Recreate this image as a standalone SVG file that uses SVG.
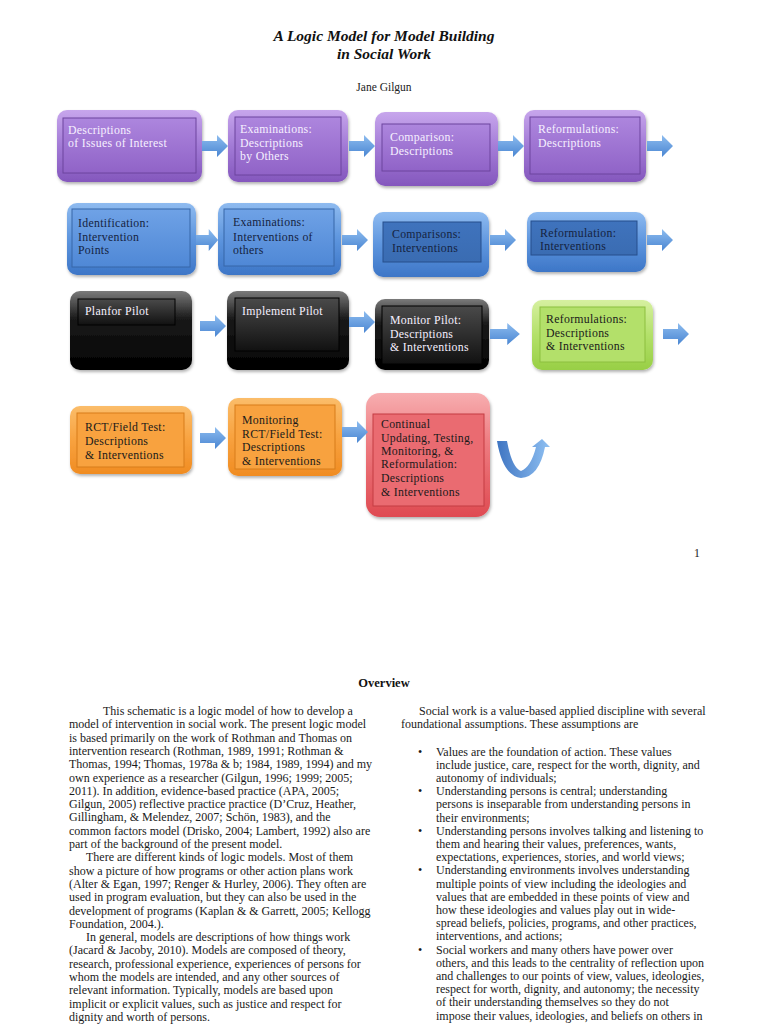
<svg xmlns="http://www.w3.org/2000/svg" width="768" height="1024" viewBox="0 0 768 1024">
<defs>
<linearGradient id="gPurple" x1="0" y1="0" x2="0" y2="1"><stop offset="0" stop-color="#c7a6ec"/><stop offset="0.5" stop-color="#a27ad6"/><stop offset="1" stop-color="#8457bd"/></linearGradient>
<linearGradient id="gPurpleIn" x1="0" y1="0" x2="0" y2="1"><stop offset="0" stop-color="#ad86de"/><stop offset="1" stop-color="#9063c7"/></linearGradient>
<linearGradient id="gBlue" x1="0" y1="0" x2="0" y2="1"><stop offset="0" stop-color="#8fbbf0"/><stop offset="0.5" stop-color="#5d95de"/><stop offset="1" stop-color="#3d76c7"/></linearGradient>
<linearGradient id="gBlueIn" x1="0" y1="0" x2="0" y2="1"><stop offset="0" stop-color="#6fa2e6"/><stop offset="1" stop-color="#4f88d6"/></linearGradient>
<linearGradient id="gBlueDark" x1="0" y1="0" x2="0" y2="1"><stop offset="0" stop-color="#3f73bd"/><stop offset="1" stop-color="#3a6cb2"/></linearGradient>
<linearGradient id="gBlack" x1="0" y1="0" x2="0" y2="1"><stop offset="0" stop-color="#7a7a7a"/><stop offset="0.35" stop-color="#1a1a1a"/><stop offset="1" stop-color="#000"/></linearGradient>
<linearGradient id="gBlackIn" x1="0" y1="0" x2="0" y2="1"><stop offset="0" stop-color="#4a4a4a"/><stop offset="1" stop-color="#111"/></linearGradient>
<linearGradient id="gGreen" x1="0" y1="0" x2="0" y2="1"><stop offset="0" stop-color="#d6f0a0"/><stop offset="0.5" stop-color="#b3e06a"/><stop offset="1" stop-color="#98cf45"/></linearGradient>
<linearGradient id="gOrange" x1="0" y1="0" x2="0" y2="1"><stop offset="0" stop-color="#fbbd6a"/><stop offset="0.5" stop-color="#f8a23f"/><stop offset="1" stop-color="#f08c22"/></linearGradient>
<linearGradient id="gRed" x1="0" y1="0" x2="0" y2="1"><stop offset="0" stop-color="#f7aeb0"/><stop offset="0.4" stop-color="#ee7b80"/><stop offset="1" stop-color="#df4b52"/></linearGradient>
<linearGradient id="gArrow" x1="0" y1="0" x2="0" y2="1"><stop offset="0" stop-color="#8dbcef"/><stop offset="1" stop-color="#4a86d2"/></linearGradient>
<linearGradient id="gU" x1="0" y1="0" x2="1" y2="0"><stop offset="0" stop-color="#3f75c2"/><stop offset="1" stop-color="#8fc0f2"/></linearGradient>
<filter id="sh" x="-10%" y="-10%" width="125%" height="130%"><feDropShadow dx="1" dy="2" stdDeviation="1.5" flood-color="#000" flood-opacity="0.3"/></filter>
<path id="arr" d="M0,-5 L15,-5 L15,-11 L26,0 L15,11 L15,5 L0,5 Z"/>
</defs>
<style>
.title{font-family:"Liberation Serif",serif;font-size:15.5px;font-weight:bold;font-style:italic;fill:#111;text-anchor:middle}
.author{font-family:"Liberation Serif",serif;font-size:11.5px;fill:#222;text-anchor:middle}
.bt{font-family:"Liberation Serif",serif;font-size:11.8px;letter-spacing:0.3px}
.wt{fill:#f6f0ff}
.dk{fill:#15233f}
.bk{fill:#1a1a1a}
.body{font-family:"Liberation Serif",serif;font-size:12px;fill:#1a1a1a}
.head{font-family:"Liberation Serif",serif;font-size:12.5px;font-weight:bold;fill:#111;text-anchor:middle}
.outer{filter:url(#sh)}
.pin{fill:url(#gPurpleIn);stroke:#6d449e;stroke-width:1}
.bin{fill:url(#gBlueIn);stroke:#3766a8;stroke-width:1}
.bdk{fill:url(#gBlueDark);stroke:#274f8c;stroke-width:1}
.kin{fill:url(#gBlackIn);stroke:#000;stroke-width:1}
.gin{fill:#b3e06a;stroke:#8cbf3f;stroke-width:1}
.oin{fill:#f8a23f;stroke:#d77d1a;stroke-width:1}
.rin{fill:#ea6b71;stroke:#c43c43;stroke-width:1}
.ar{fill:url(#gArrow)}
</style>
<rect x="0" y="0" width="768" height="1024" fill="#fff"/>

<text class="title" x="384" y="41">A Logic Model for Model Building</text>
<text class="title" x="384" y="59">in Social Work</text>
<text class="author" x="384" y="91">Jane Gilgun</text>

<!-- Row 1 -->
<g id="n-descriptions-issues">
<rect class="outer" x="57" y="110" width="145" height="72" rx="10" fill="url(#gPurple)"/>
<rect class="pin" x="63" y="118" width="133" height="55"/>
<text class="bt wt" x="68" y="134">Descriptions</text>
<text class="bt wt" x="68" y="147">of Issues of Interest</text>
</g>
<g id="n-examinations-descriptions">
<rect class="outer" x="228" y="110" width="120" height="72" rx="10" fill="url(#gPurple)"/>
<rect class="pin" x="235" y="117" width="106" height="58"/>
<text class="bt wt" x="240" y="133">Examinations:</text>
<text class="bt wt" x="240" y="147">Descriptions</text>
<text class="bt wt" x="240" y="160">by Others</text>
</g>
<g id="n-comparison-descriptions">
<rect class="outer" x="375" y="112" width="123" height="74" rx="10" fill="url(#gPurple)"/>
<rect class="pin" x="382" y="124" width="108" height="47"/>
<text class="bt wt" x="390" y="141">Comparison:</text>
<text class="bt wt" x="390" y="155">Descriptions</text>
</g>
<g id="n-reformulations-descriptions">
<rect class="outer" x="524" y="110" width="122" height="72" rx="10" fill="url(#gPurple)"/>
<rect class="pin" x="530" y="117" width="110" height="57"/>
<text class="bt wt" x="538" y="133">Reformulations:</text>
<text class="bt wt" x="538" y="147">Descriptions</text>
</g>

<!-- Row 2 -->
<g id="n-identification">
<rect class="outer" x="67" y="203" width="129" height="72" rx="10" fill="url(#gBlue)"/>
<rect class="bin" x="72" y="209" width="118" height="58"/>
<text class="bt dk" x="78" y="227">Identification:</text>
<text class="bt dk" x="78" y="241">Intervention</text>
<text class="bt dk" x="78" y="254">Points</text>
</g>
<g id="n-examinations-interventions">
<rect class="outer" x="218" y="203" width="123" height="72" rx="10" fill="url(#gBlue)"/>
<rect class="bin" x="224" y="209" width="110" height="57"/>
<text class="bt dk" x="233" y="226">Examinations:</text>
<text class="bt dk" x="233" y="241">Interventions of</text>
<text class="bt dk" x="233" y="254">others</text>
</g>
<g id="n-comparisons-interventions">
<rect class="outer" x="373" y="212" width="116" height="65" rx="10" fill="url(#gBlue)"/>
<rect class="bdk" x="383" y="222" width="98" height="40"/>
<text class="bt dk" x="392" y="238">Comparisons:</text>
<text class="bt dk" x="392" y="252">Interventions</text>
</g>
<g id="n-reformulation-interventions">
<rect class="outer" x="527" y="212" width="119" height="60" rx="10" fill="url(#gBlue)"/>
<rect class="bdk" x="531" y="221" width="106" height="34"/>
<text class="bt dk" x="540" y="237">Reformulation:</text>
<text class="bt dk" x="540" y="250">Interventions</text>
</g>

<!-- Row 3 -->
<g id="n-plan-pilot">
<rect class="outer" x="70" y="291" width="122" height="79" rx="10" fill="url(#gBlack)"/>
<rect class="kin" x="78" y="299" width="97" height="26"/>
<text class="bt wt" x="85" y="315">Planfor Pilot</text>
</g>
<g id="n-implement-pilot">
<rect class="outer" x="227" y="291" width="122" height="79" rx="10" fill="url(#gBlack)"/>
<rect class="kin" x="235" y="298" width="104" height="53"/>
<text class="bt wt" x="242" y="315">Implement Pilot</text>
</g>
<g id="n-monitor-pilot">
<rect class="outer" x="375" y="299" width="114" height="71" rx="10" fill="url(#gBlack)"/>
<rect class="kin" x="382" y="306" width="100" height="58"/>
<text class="bt wt" x="390" y="324">Monitor Pilot:</text>
<text class="bt wt" x="390" y="338">Descriptions</text>
<text class="bt wt" x="390" y="351">&amp; Interventions</text>
</g>
<g id="n-reformulations-both">
<rect class="outer" x="532" y="300" width="121" height="70" rx="10" fill="url(#gGreen)"/>
<rect class="gin" x="540" y="307" width="105" height="55"/>
<text class="bt bk" x="546" y="323">Reformulations:</text>
<text class="bt bk" x="546" y="337">Descriptions</text>
<text class="bt bk" x="546" y="350">&amp; Interventions</text>
</g>

<!-- Row 4 -->
<g id="n-rct-field-test">
<rect class="outer" x="70" y="406" width="122" height="68" rx="10" fill="url(#gOrange)"/>
<rect class="oin" x="77" y="413" width="107" height="54"/>
<text class="bt bk" x="85" y="431">RCT/Field Test:</text>
<text class="bt bk" x="85" y="445">Descriptions</text>
<text class="bt bk" x="85" y="459">&amp; Interventions</text>
</g>
<g id="n-monitoring-rct">
<rect class="outer" x="228" y="398" width="114" height="78" rx="10" fill="url(#gOrange)"/>
<rect class="oin" x="235" y="405" width="100" height="64"/>
<text class="bt bk" x="242" y="424">Monitoring</text>
<text class="bt bk" x="242" y="438">RCT/Field Test:</text>
<text class="bt bk" x="242" y="451">Descriptions</text>
<text class="bt bk" x="242" y="465">&amp; Interventions</text>
</g>
<g id="n-continual-updating">
<rect class="outer" x="366" y="393" width="124" height="124" rx="14" fill="url(#gRed)"/>
<rect class="rin" x="373" y="414" width="111" height="92"/>
<text class="bt bk" x="381" y="428">Continual</text>
<text class="bt bk" x="381" y="442">Updating, Testing,</text>
<text class="bt bk" x="381" y="455">Monitoring, &amp;</text>
<text class="bt bk" x="381" y="468">Reformulation:</text>
<text class="bt bk" x="381" y="482">Descriptions</text>
<text class="bt bk" x="381" y="496">&amp; Interventions</text>
</g>

<!-- Connectors -->
<g id="connectors">
<use href="#arr" class="ar" transform="translate(202,146)"/>
<use href="#arr" class="ar" transform="translate(349,146)"/>
<use href="#arr" class="ar" transform="translate(498,146)"/>
<use href="#arr" class="ar" transform="translate(647,146)"/>
<use href="#arr" class="ar" transform="translate(196,240) scale(0.85,1)"/>
<use href="#arr" class="ar" transform="translate(342,240)"/>
<use href="#arr" class="ar" transform="translate(490,240)"/>
<use href="#arr" class="ar" transform="translate(647,240)"/>
<use href="#arr" class="ar" transform="translate(200,326)"/>
<use href="#arr" class="ar" transform="translate(349,322)"/>
<use href="#arr" class="ar" transform="translate(490,334) scale(1.15,1)"/>
<use href="#arr" class="ar" transform="translate(663,334)"/>
<use href="#arr" class="ar" transform="translate(200,438)"/>
<use href="#arr" class="ar" transform="translate(342,432)"/>
<path fill="url(#gU)" d="M497,441 L507,441 Q512,468 521,471 Q531,467 536,447 L532,447 L542,439 L550,447 L545,447 Q539,477 521,478 Q503,476 497,441 Z"/>
</g>

<text class="bt" x="694" y="557" fill="#222">1</text>

<text class="head" x="384" y="687">Overview</text>

<g class="body">
<text x="103" y="715">This schematic is a logic model of how to develop a</text>
<text x="69" y="728.3">model of intervention in social work. The present logic model</text>
<text x="69" y="741.6">is based primarily on the work of Rothman and Thomas on</text>
<text x="69" y="754.9">intervention research (Rothman, 1989, 1991; Rothman &amp;</text>
<text x="69" y="768.2">Thomas, 1994; Thomas, 1978a &amp; b; 1984, 1989, 1994) and my</text>
<text x="69" y="781.5">own experience as a researcher (Gilgun, 1996; 1999; 2005;</text>
<text x="69" y="794.8">2011). In addition, evidence-based practice (APA, 2005;</text>
<text x="69" y="808.1">Gilgun, 2005) reflective practice practice (D’Cruz, Heather,</text>
<text x="69" y="821.4">Gillingham, &amp; Melendez, 2007; Schön, 1983), and the</text>
<text x="69" y="834.7">common factors model (Drisko, 2004; Lambert, 1992) also are</text>
<text x="69" y="848">part of the background of the present model.</text>
<text x="86" y="861.3">There are different kinds of logic models. Most of them</text>
<text x="69" y="874.6">show a picture of how programs or other action plans work</text>
<text x="69" y="887.9">(Alter &amp; Egan, 1997; Renger &amp; Hurley, 2006). They often are</text>
<text x="69" y="901.2">used in program evaluation, but they can also be used in the</text>
<text x="69" y="914.5">development of programs (Kaplan &amp; &amp; Garrett, 2005; Kellogg</text>
<text x="69" y="927.8">Foundation, 2004.).</text>
<text x="86" y="941.1">In general, models are descriptions of how things work</text>
<text x="69" y="954.4">(Jacard &amp; Jacoby, 2010).  Models are composed of theory,</text>
<text x="69" y="967.7">research, professional experience, experiences of persons for</text>
<text x="69" y="981">whom the models are intended, and any other sources of</text>
<text x="69" y="994.3">relevant information. Typically, models are based upon</text>
<text x="69" y="1007.6">implicit or explicit values, such as justice and respect for</text>
<text x="69" y="1020.9">dignity and worth of persons.</text>

<text x="419" y="715">Social work is a value-based applied discipline with several</text>
<text x="401" y="728.3">foundational assumptions. These assumptions are</text>
<text x="418" y="755.5">•</text>
<text x="436" y="755.5">Values are the foundation of action. These values</text>
<text x="436" y="768.7">include justice, care, respect for the worth, dignity, and</text>
<text x="436" y="781.9">autonomy of individuals;</text>
<text x="418" y="795.1">•</text>
<text x="436" y="795.1">Understanding persons is central; understanding</text>
<text x="436" y="808.3">persons is inseparable from understanding persons in</text>
<text x="436" y="821.5">their environments;</text>
<text x="418" y="834.7">•</text>
<text x="436" y="834.7">Understanding persons involves talking and listening to</text>
<text x="436" y="847.9">them and hearing their values, preferences, wants,</text>
<text x="436" y="861.1">expectations, experiences, stories, and world views;</text>
<text x="418" y="874.3">•</text>
<text x="436" y="874.3">Understanding environments involves understanding</text>
<text x="436" y="887.5">multiple points of view including the ideologies and</text>
<text x="436" y="900.7">values that are embedded in these points of view and</text>
<text x="436" y="913.9">how these ideologies and values play out in wide-</text>
<text x="436" y="927.1">spread beliefs, policies, programs, and other practices,</text>
<text x="436" y="940.3">interventions, and actions;</text>
<text x="418" y="953.5">•</text>
<text x="436" y="953.5">Social workers and many others have power over</text>
<text x="436" y="966.7">others, and this leads to the centrality of reflection upon</text>
<text x="436" y="979.9">and challenges to our points of view, values, ideologies,</text>
<text x="436" y="993.1">respect for worth, dignity, and autonomy; the necessity</text>
<text x="436" y="1006.3">of their understanding themselves so they do not</text>
<text x="436" y="1019.5">impose their values, ideologies, and beliefs on others in</text>
</g>
</svg>
